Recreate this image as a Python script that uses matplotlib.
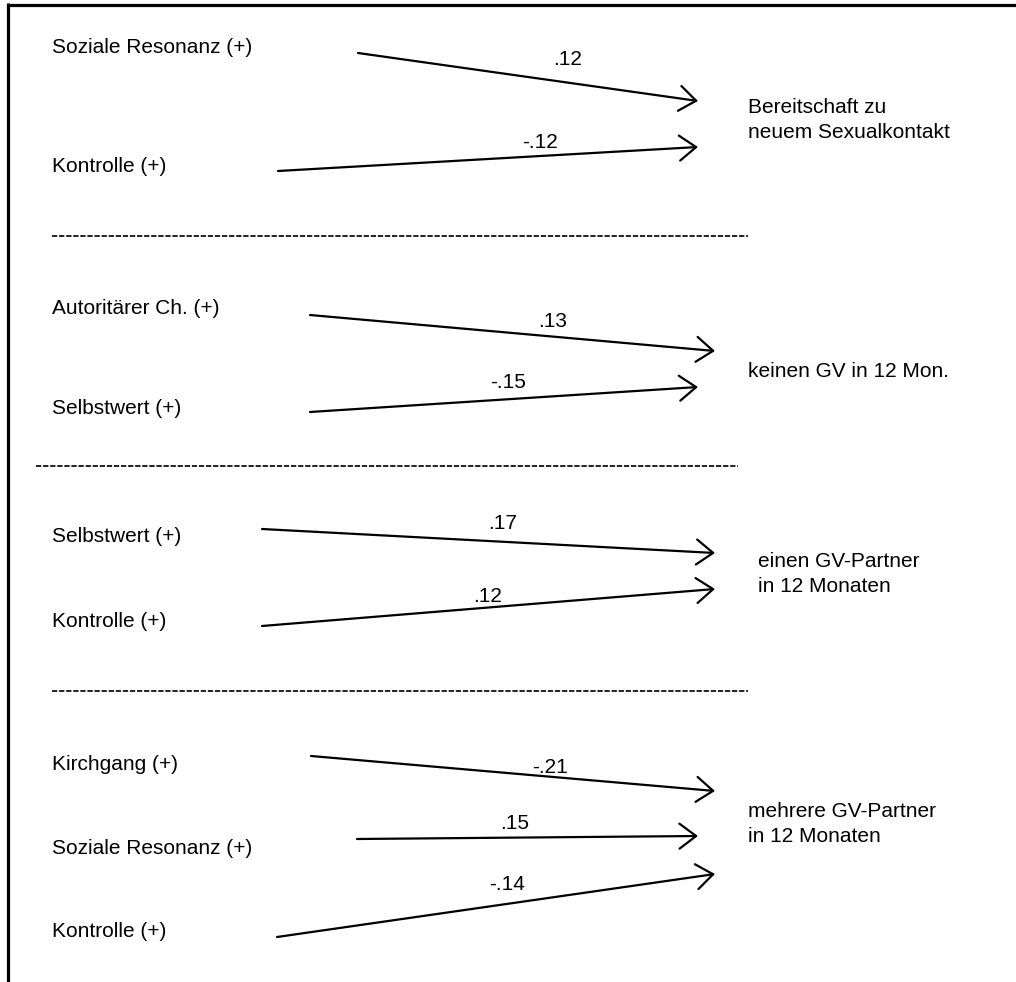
import matplotlib
matplotlib.use("Agg")
import matplotlib.pyplot as plt
from matplotlib.patches import FancyArrowPatch

plt.rcParams['font.family'] = ['Liberation Sans', 'DejaVu Sans']
plt.rcParams['lines.scale_dashes'] = False

# path coefficients per outcome block
outcomes = [
    "Bereitschaft zu\nneuem Sexualkontakt",
    "keinen GV in 12 Mon.",
    "einen GV-Partner\nin 12 Monaten",
    "mehrere GV-Partner\nin 12 Monaten",
]
predictors = [
    ["Soziale Resonanz (+)", "Kontrolle (+)"],
    ["Autoritärer Ch. (+)", "Selbstwert (+)"],
    ["Selbstwert (+)", "Kontrolle (+)"],
    ["Kirchgang (+)", "Soziale Resonanz (+)", "Kontrolle (+)"],
]
coefs = [
    [".12", "-.12"],
    [".13", "-.15"],
    [".17", ".12"],
    ["-.21", ".15", "-.14"],
]

# layout (pixel coordinates, y downwards)
pred_y = [[53, 172], [314, 414], [542, 627], [770, 854, 937]]
arrow_from = [[(358, 53), (278, 171)],
              [(310, 315), (310, 412)],
              [(262, 529), (262, 626)],
              [(311, 756), (357, 839), (277, 937)]]
arrow_to = [[(698, 101), (698, 147)],
            [(715, 351), (698, 387)],
            [(715, 553), (715, 589)],
            [(715, 791), (698, 836), (715, 874)]]
coef_pos = [[(568, 65), (540, 148)],
            [(553, 327), (508, 388)],
            [(503, 529), (488, 602)],
            [(550, 773), (515, 829), (507, 890)]]
outcome_pos = [(748, 113), (748, 377), (758, 567), (748, 817)]
sep_lines = [(52, 748, 236), (36, 738, 466), (52, 748, 691)]

fs = 15

fig = plt.figure(figsize=(10.16, 9.82), dpi=100)
ax = fig.add_axes([0, 0, 1, 1])
ax.set_xlim(0, 1016)
ax.set_ylim(982, 0)
ax.axis('off')

# frame: top and left only
ax.plot([8, 1016], [4.5, 4.5], color='black', lw=2.3, solid_capstyle='butt')
ax.plot([8, 8], [3, 982], color='black', lw=2.3, solid_capstyle='butt')

for i, outcome in enumerate(outcomes):
    for j, name in enumerate(predictors[i]):
        ax.text(52, pred_y[i][j], name, fontsize=fs, va='baseline', ha='left')
        arr = FancyArrowPatch(arrow_from[i][j], arrow_to[i][j],
                              arrowstyle='->,head_length=0.6,head_width=0.45',
                              mutation_scale=20, lw=1.6, color='black',
                              shrinkA=0, shrinkB=0)
        ax.add_patch(arr)
        cx, cy = coef_pos[i][j]
        ax.text(cx, cy, coefs[i][j], fontsize=fs, va='baseline', ha='center')
    ox, oy = outcome_pos[i]
    lines = outcome.split("\n")
    for k, line in enumerate(lines):
        ax.text(ox, oy + 25 * k, line, fontsize=fs, va='baseline', ha='left')

for x0, x1, y in sep_lines:
    ax.plot([x0, x1], [y, y], color='#222222', lw=1.4,
            dashes=(3.8, 1.3), solid_capstyle='butt', dash_capstyle='butt')

fig.savefig('out.png', dpi=100)
